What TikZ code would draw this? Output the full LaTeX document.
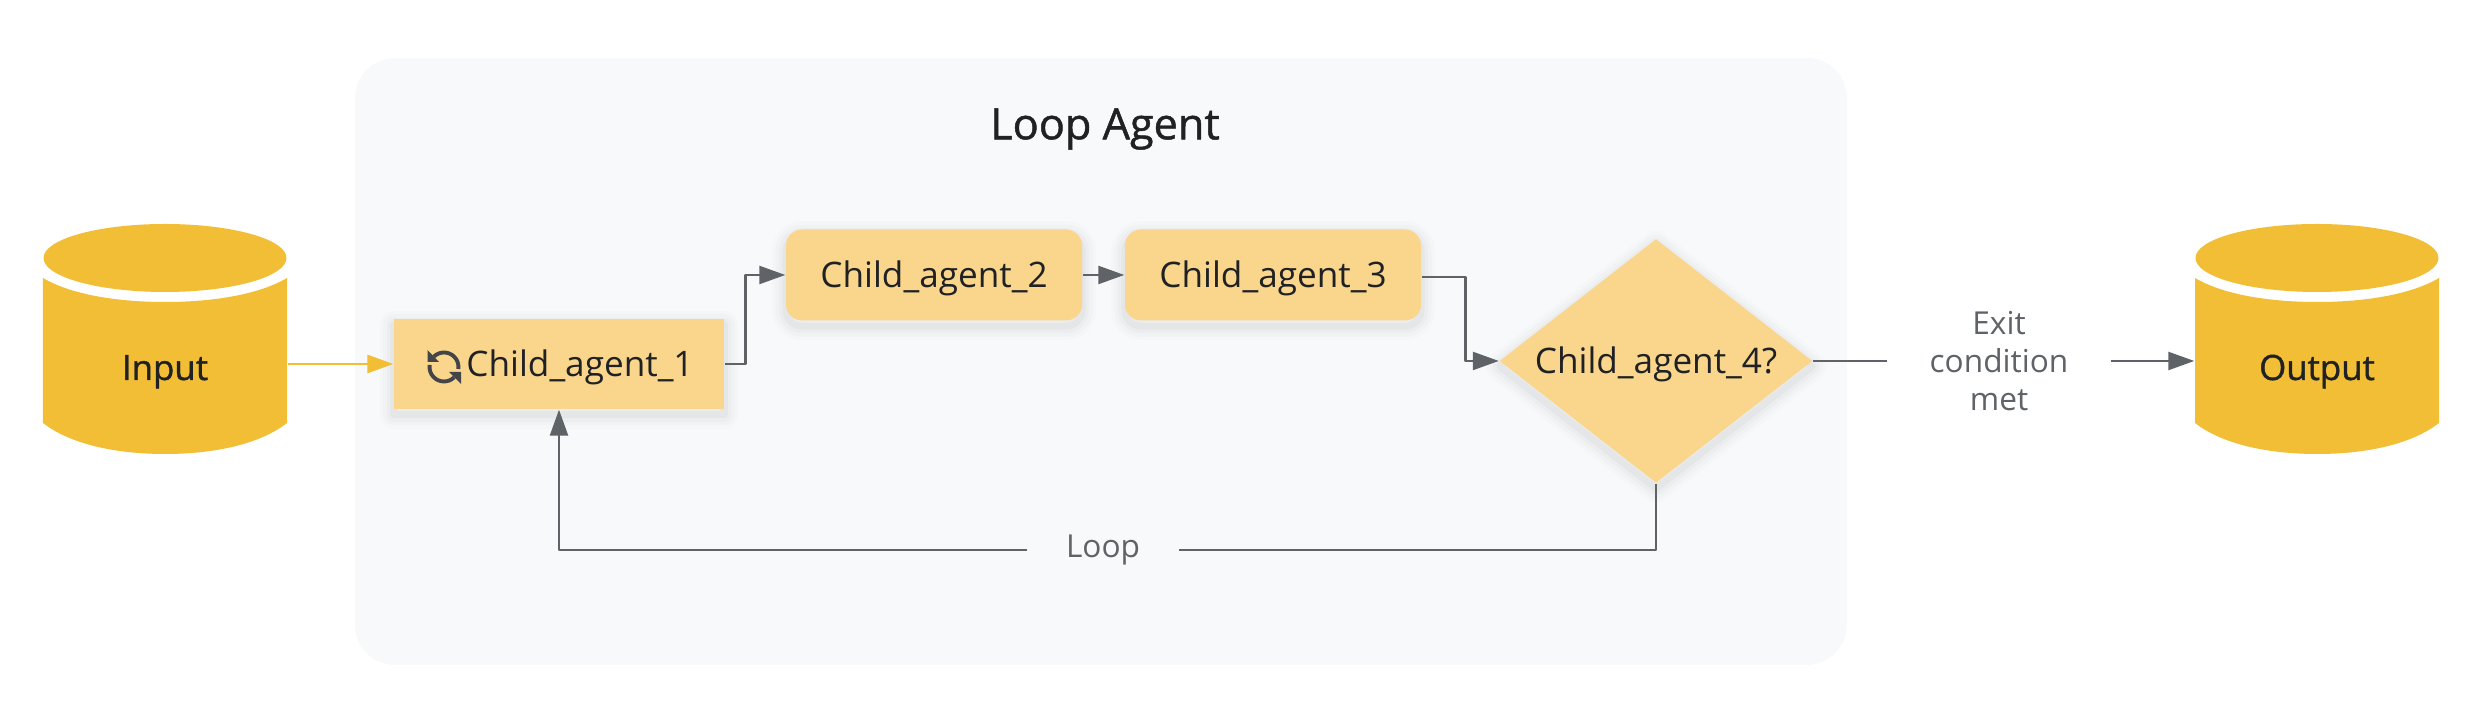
\documentclass[tikz,border=0pt]{standalone}
\usepackage{fontspec}
\setmainfont{Open Sans}
\newfontfamily\medfont[FakeBold=1.1]{Open Sans}
\usetikzlibrary{arrows.meta,shapes.geometric}
\definecolor{dbgold}{HTML}{F2BE36}
\definecolor{tasklight}{HTML}{F9D68C}
\definecolor{panelgrey}{HTML}{F8F9FA}
\definecolor{flowgrey}{HTML}{5F6368}
\definecolor{inkdark}{HTML}{202124}
\tikzset{
	softshadow/.style={
		preaction={draw=black,line width=8pt,opacity=.012,line join=round,transform canvas={yshift=-1.6pt}},
		preaction={draw=black,line width=6pt,opacity=.015,line join=round,transform canvas={yshift=-1.6pt}},
		preaction={draw=black,line width=4pt,opacity=.02,line join=round,transform canvas={yshift=-1.6pt}},
		preaction={draw=black,line width=2pt,opacity=.026,line join=round,transform canvas={yshift=-1.6pt}}},
	taskbox/.style={rectangle,fill=tasklight,softshadow,inner sep=0pt,text=inkdark,font=\fontsize{10}{12}\selectfont,text height=.25cm,text depth=0cm},
	dbbox/.style={rectangle,inner sep=0pt,minimum width=2.44cm,minimum height=2.30cm},
	dbtext/.style={anchor=base,text=inkdark,font=\fontsize{9.9}{12}\medfont},
	flowlabel/.style={inner sep=0pt,text=flowgrey,align=center,font=\fontsize{9}{10.7}\selectfont},
	flowline/.style={draw=flowgrey,line width=.7pt,-{Triangle[length=.26cm,width=.18cm]}},
	dbcyl/.pic={
		\fill[dbgold] (0,.81) ellipse (1.215 and .34);
		\fill[dbgold] (-1.22,.61) .. controls (-.95,.45) and (-.5,.37) .. (0,.37)
			.. controls (.5,.37) and (.95,.45) .. (1.22,.61) -- (1.22,-.84)
			.. controls (.95,-1.05) and (.5,-1.15) .. (0,-1.15)
			.. controls (-.5,-1.15) and (-.95,-1.05) .. (-1.22,-.84) -- cycle;
	}
}
\begin{document}
\begin{tikzpicture}[line join=round]
	\useasboundingbox (0,0) rectangle (24.84,7.28);
	\fill[panelgrey,rounded corners=.4cm] (3.55,.63) rectangle (18.47,6.70);
	\node[text=inkdark,font=\fontsize{12.3}{16}\medfont] (looptitle) at (11.05,5.99) {Loop Agent};

	% stores
	\node[dbbox] (input) at (1.65,3.89) {};
	\node[dbbox] (output) at (23.17,3.89) {};
	\pic at (input.center) {dbcyl};
	\pic at (output.center) {dbcyl};
	\node[dbtext] (inputtext) at (1.65,3.48) {Input};
	\node[dbtext] (outputtext) at (23.17,3.48) {Output};

	% agents
	\node[taskbox,minimum width=3.30cm,minimum height=.90cm] (child1) at (5.59,3.64) {\hspace*{.42cm}Child\_agent\_1};
	\node[taskbox,rounded corners=.16cm,minimum width=2.96cm,minimum height=.91cm] (child2) at (9.34,4.53) {Child\_agent\_2};
	\node[taskbox,rounded corners=.16cm,minimum width=2.96cm,minimum height=.91cm] (child3) at (12.73,4.53) {Child\_agent\_3};
	\node[taskbox,diamond,aspect=1.28,minimum width=3.13cm,minimum height=2.44cm] (ask) at (16.56,3.67) {Child\_agent\_4?};

	% sync icon
	\begin{scope}[shift={(child1.center)},shift={(-1.15,-.03)},draw=flowgrey!70!black,fill=flowgrey!70!black]
		\draw[line width=1.1pt] (135:.145) arc (135:-8:.145);
		\draw[line width=1.1pt] (-45:.145) arc (-45:-188:.145);
		\fill (-.165,.17) -- (-.165,.05) -- (-.05,.05) -- cycle;
		\fill (.17,-.17) -- (.17,-.05) -- (.05,-.05) -- cycle;
	\end{scope}

	\node[flowlabel,minimum width=1.5cm] (looplabel) at (11.03,1.78) {Loop};
	\node[flowlabel,minimum width=2.22cm] (exitlabel) at (19.99,3.67) {Exit\\condition\\met};

	% connectors
	\draw[flowline,draw=dbgold,line width=.8pt,-{Triangle[length=.26cm,width=.18cm,fill=dbgold]}] (input.east |- child1.west) -- (child1.west);
	\draw[flowline] (child1.east) -- ++(.21,0) |- (child2.west);
	\draw[flowline] (child2.east) -- (child3.west);
	\draw[flowline] ([yshift=-.02cm]child3.east) -- ++(.44,0) |- (ask.west);
	\draw[flowline,-] (ask.east) -- (exitlabel.west);
	\draw[flowline] (exitlabel.east) -- (exitlabel.east -| output.west);
	\draw[flowline,-] (ask.south) |- (looplabel.east);
	\draw[flowline] (looplabel.west) -| (child1.south);
\end{tikzpicture}
\end{document}
